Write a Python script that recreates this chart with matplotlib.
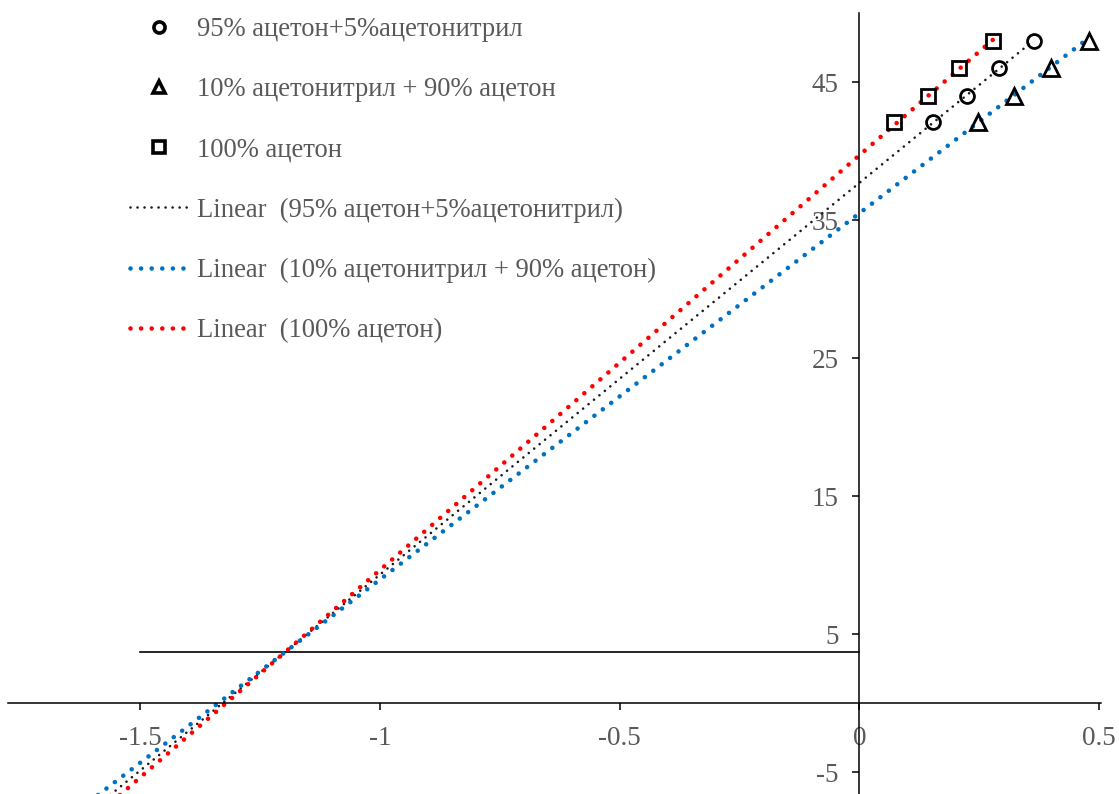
import matplotlib
matplotlib.use("Agg")
import matplotlib.pyplot as plt
from matplotlib.lines import Line2D
import numpy as np

plt.rcParams['font.family'] = ['Liberation Serif', 'DejaVu Serif']
plt.rcParams['axes.unicode_minus'] = False

# данные
y_vals = [42.1, 44.0, 46.0, 48.0]
x_mix95 = [0.154, 0.224, 0.292, 0.363]
x_mix10 = [0.247, 0.322, 0.399, 0.479]
x_acet = [0.073, 0.144, 0.208, 0.279]

names = ['95% ацетон+5%ацетонитрил', '10% ацетонитрил + 90% ацетон', '100% ацетон']
# линии тренда: наклон и отрезок на оси y
trend_slope = [28.38, 26.54, 30.05]
trend_icept = [37.70, 35.50, 39.70]
trend_start = -1.8

hline_y = 3.70
hline_x = [-1.5, 0.0]

xticks = [-1.5, -1, -0.5, 0, 0.5]
xtick_labels = ['-1.5', '-1', '-0.5', '0', '0.5']
yticks = [-5, 5, 15, 25, 35, 45]

markers = ['o', '^', 's']
msizes = [10, 12, 10.5]
line_colors = ['#1a1a1a', '#0070C0', '#FF0000']
line_lw = [1.9, 3.3, 3.3]
line_dash = [(0, (0.01, 2.65)), (0, (0.01, 2.3)), (0, (0.01, 2.3))]

fig = plt.figure(figsize=(11.19, 7.94), dpi=100)
ax = fig.add_axes([0.0074, 0.0, 0.9762, 0.9836])

xs_all = [x_mix95, x_mix10, x_acet]
for i in range(3):
    xx = np.array([trend_start, max(xs_all[i])])
    ax.plot(xx, trend_icept[i] + trend_slope[i] * xx, color=line_colors[i], lw=line_lw[i],
            linestyle=line_dash[i], dash_capstyle='round', zorder=2)

for i in range(3):
    ax.plot(xs_all[i], y_vals, linestyle='none', marker=markers[i], ms=msizes[i],
            mfc='none', mec='black', mew=2, zorder=3)

ax.plot(hline_x, [hline_y, hline_y], color='black', lw=1.2, zorder=1)

ax.set_xlim(-1.775, 0.503)
ax.set_ylim(-6.57, 50)
ax.spines['left'].set_position(('data', 0))
ax.spines['bottom'].set_position(('data', 0))
ax.spines['top'].set_visible(False)
ax.spines['right'].set_visible(False)
for s in ['left', 'bottom']:
    ax.spines[s].set_linewidth(1.1)
    ax.spines[s].set_color('black')

ax.set_xticks(xticks)
ax.set_xticklabels(xtick_labels)
ax.set_yticks(yticks)
ax.tick_params(axis='both', direction='out', length=5, width=1.1, color='black',
               labelsize=19.5, labelcolor='#595959')
ax.tick_params(axis='x', pad=11)
ax.tick_params(axis='y', pad=10)
ax.patch.set_visible(False)

# легенда
handles = []
leg_ms = [8, 8, 8.5]
for i in range(3):
    handles.append(Line2D([], [], linestyle='none', marker=markers[i], ms=leg_ms[i],
                          mfc='none', mec='black', mew=2.6))
for i in range(3):
    handles.append(Line2D([], [], color=line_colors[i], lw=line_lw[i], linestyle=line_dash[i],
                          dash_capstyle='round'))
labels = names + ['Linear  (' + n + ')' for n in names]
fig.legend(handles, labels, loc='upper left', bbox_to_anchor=(130 / 1119, 1 - 17 / 794),
           frameon=False, fontsize=19.2, handlelength=2.18, handletextpad=0.34,
           labelspacing=1.32, borderpad=0, borderaxespad=0, labelcolor='#595959')

fig.savefig('out.png', dpi=100)
